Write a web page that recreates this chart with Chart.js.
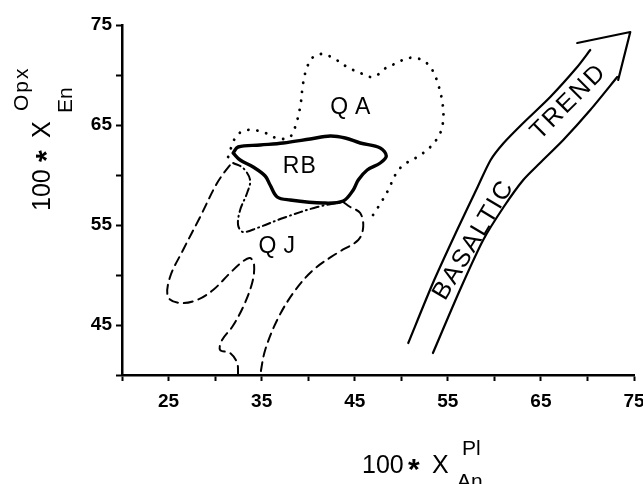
<!DOCTYPE html>
<html>
<head>
<meta charset="utf-8">
<script src="https://cdn.jsdelivr.net/npm/chart.js@4.4.1/dist/chart.umd.min.js"></script>
<style>
  body { margin: 0; background: #fff; }
  canvas { display: block; }
</style>
</head>
<body>
<canvas id="chart" width="643" height="484"></canvas>
<script>
// axis ticks
const xTickLabels = [25, 35, 45, 55, 65, 75];
const yTickLabels = [45, 55, 65, 75];

// field outlines, [An, En] pairs
const rbOutline = [
  [31.94, 62.2], [32.47, 62.8], [34.84, 63.0], [37.31, 63.2], [40.22, 63.6], [42.37, 63.9],
  [43.98, 63.7], [45.59, 63.2], [47.74, 62.7], [48.39, 61.9], [47.74, 61.2], [46.34, 60.5],
  [45.38, 59.5], [44.84, 58.5], [43.76, 57.4], [41.61, 57.2], [38.06, 57.5], [36.67, 57.8],
  [35.91, 59.0], [35.38, 59.9], [34.09, 60.8], [32.69, 61.5], [31.94, 62.2]
];
const qaOutline = [
  [31.40, 61.8], [31.83, 63.0], [32.37, 64.0], [33.44, 64.5], [35.16, 64.3], [36.24, 63.8],
  [37.31, 63.6], [38.06, 63.8], [38.60, 64.8], [39.14, 66.8], [39.46, 69.2], [39.89, 70.8],
  [40.54, 71.8], [41.51, 72.1], [42.69, 71.7], [44.19, 70.8], [45.59, 70.2], [46.99, 69.8],
  [48.49, 70.8], [49.57, 71.2], [50.65, 71.7], [52.26, 71.5], [53.33, 70.5], [53.98, 69.0],
  [54.41, 67.3], [54.52, 65.7], [54.19, 64.2], [53.12, 62.8], [51.72, 61.8], [50.22, 61.0],
  [49.35, 60.0], [48.60, 58.5], [47.53, 56.8], [46.45, 55.3]
];
const qjLeft = [
  [32.47, 40.0], [32.37, 41.2], [31.61, 42.2], [30.54, 42.5], [30.75, 43.5], [31.83, 44.8],
  [33.01, 46.8], [33.98, 49.2], [34.19, 51.0], [33.76, 51.7], [32.90, 51.3], [31.61, 50.2],
  [29.78, 48.5], [28.06, 47.5], [26.24, 47.2], [24.95, 47.8], [25.16, 49.8], [26.56, 52.5],
  [28.39, 55.8], [30.22, 59.2], [31.61, 61.0], [31.94, 61.2]
];
const qjInner = [
  [31.94, 61.2], [33.01, 60.7], [33.76, 59.5], [33.44, 58.2], [32.69, 56.5], [32.47, 55.0],
  [33.01, 54.3], [34.52, 54.7], [37.31, 55.7], [40.97, 56.8], [43.76, 57.3]
];
const qjRight = [
  [43.76, 57.3], [44.52, 56.8], [45.59, 56.2], [45.91, 54.8], [45.38, 53.5], [43.12, 52.2],
  [40.54, 50.5], [38.39, 48.2], [36.67, 45.5], [35.38, 42.5], [34.84, 40.0]
];
// basaltic trend arrow
const trendLeft = [
  [50.75, 43.2], [53.4, 49.2], [56.0, 54.5], [58.2, 58.8], [59.6, 61.5], [61.0, 63.2],
  [63.1, 65.2], [66.0, 67.8], [68.9, 70.8], [70.3, 72.5]
];
const trendRight = [
  [53.4, 42.2], [56.3, 48.5], [58.8, 53.5], [61.0, 56.8], [63.1, 59.5], [64.9, 61.2],
  [67.4, 63.5], [70.3, 66.5], [73.2, 69.8]
];
const arrowHead = [[68.9, 73.2], [74.6, 74.3], [73.3, 69.5]];

// text inside the plot
const noteText = ['QA', 'RB', 'QJ', 'BASALTIC', 'TREND'];
const noteAt = [[44.9, 66.7], [39.1, 60.8], [37.0, 52.8], [57.8, 53.5], [68.0, 67.3]];
const noteAngle = [0, 0, 0, -59, -45];

const pts = arr => arr.map(([x, y]) => ({ x, y }));

const line = (data, extra) => Object.assign({
  data: pts(data),
  showLine: true,
  pointRadius: 0,
  borderColor: '#000',
  borderWidth: 2,
  tension: 0.35,
  fill: false,
  clip: false,
  borderCapStyle: 'round',
  borderJoinStyle: 'round'
}, extra);

const FONT = '"Liberation Sans", Arial, sans-serif';

const decorations = {
  id: 'decorations',
  afterDatasetsDraw(chart) {
    const { ctx, scales: { x, y } } = chart;
    ctx.save();
    ctx.fillStyle = '#000';
    ctx.textAlign = 'center';
    ctx.textBaseline = 'middle';
    noteText.forEach((t, i) => {
      const px = x.getPixelForValue(noteAt[i][0]);
      const py = y.getPixelForValue(noteAt[i][1]);
      ctx.save();
      ctx.translate(px, py);
      ctx.rotate(noteAngle[i] * Math.PI / 180);
      ctx.font = (i < 3 ? '23px ' : '25px ') + FONT;
      ctx.letterSpacing = i === 1 ? '1px' : (i < 3 ? '7px' : '2px');
      ctx.fillText(t, 0, 0);
      ctx.restore();
    });

    // x axis title: 100*X with Pl above and An below
    ctx.textAlign = 'left';
    ctx.textBaseline = 'alphabetic';
    ctx.letterSpacing = '0px';
    ctx.font = '25px ' + FONT;
    ctx.fillText('100', 362, 473);
    ctx.fillText('X', 432, 473);
    ctx.font = 'bold 30px ' + FONT;
    ctx.fillText('*', 408, 479);
    ctx.font = '21px ' + FONT;
    ctx.fillText('Pl', 462, 455);
    ctx.fillText('An', 457, 488);

    // y axis title, rotated
    ctx.save();
    ctx.rotate(-Math.PI / 2);
    ctx.font = '25px ' + FONT;
    ctx.fillText('100', -211, 50);
    ctx.fillText('X', -138, 50);
    ctx.font = 'bold 30px ' + FONT;
    ctx.fillText('*', -162, 56);
    ctx.font = '21px ' + FONT;
    ctx.letterSpacing = '2px';
    ctx.fillText('Opx', -111, 28);
    ctx.letterSpacing = '0px';
    ctx.fillText('En', -113, 72);
    ctx.restore();
    ctx.restore();
  }
};

new Chart(document.getElementById('chart'), {
  type: 'scatter',
  data: {
    datasets: [
      line(rbOutline, { borderWidth: 3.4 }),
      line(qaOutline, { borderWidth: 2.8, borderDash: [0.1, 9] }),
      line(qjLeft, { borderDash: [9, 6] }),
      line(qjInner, { borderDash: [8, 4, 1, 4] }),
      line(qjRight, { borderDash: [9, 6] }),
      line(trendLeft, { borderWidth: 2.2, tension: 0.25 }),
      line(trendRight, { borderWidth: 2.2, tension: 0.25 }),
      line(arrowHead, { borderWidth: 2.2, tension: 0 })
    ]
  },
  options: {
    responsive: false,
    animation: false,
    events: [],
    layout: { padding: { top: 25, right: 9, left: 0, bottom: 0 } },
    plugins: { legend: { display: false }, tooltip: { enabled: false } },
    scales: {
      x: {
        type: 'linear',
        min: 20,
        max: 75,
        afterFit: s => { s.height = 109; s.paddingLeft = 0; s.paddingRight = 0; },
        border: { display: true, color: '#000', width: 2.5 },
        grid: { drawOnChartArea: false, drawTicks: true, tickLength: 6, tickWidth: 2, tickColor: '#000' },
        ticks: {
          stepSize: 5,
          autoSkip: false,
          maxRotation: 0,
          padding: 9,
          color: '#000',
          font: { family: FONT, size: 19, weight: 'bold' },
          callback: v => xTickLabels.includes(v) ? String(v) : ''
        }
      },
      y: {
        type: 'linear',
        min: 40,
        max: 75,
        afterFit: s => { s.width = 122; s.paddingTop = 0; s.paddingBottom = 0; },
        border: { display: true, color: '#000', width: 2.5 },
        grid: { drawOnChartArea: false, drawTicks: true, tickLength: 6, tickWidth: 2, tickColor: '#000' },
        ticks: {
          stepSize: 5,
          autoSkip: false,
          padding: 4,
          color: '#000',
          font: { family: FONT, size: 19, weight: 'bold' },
          callback: v => yTickLabels.includes(v) ? String(v) : ''
        }
      }
    }
  },
  plugins: [decorations]
});
</script>
</body>
</html>
